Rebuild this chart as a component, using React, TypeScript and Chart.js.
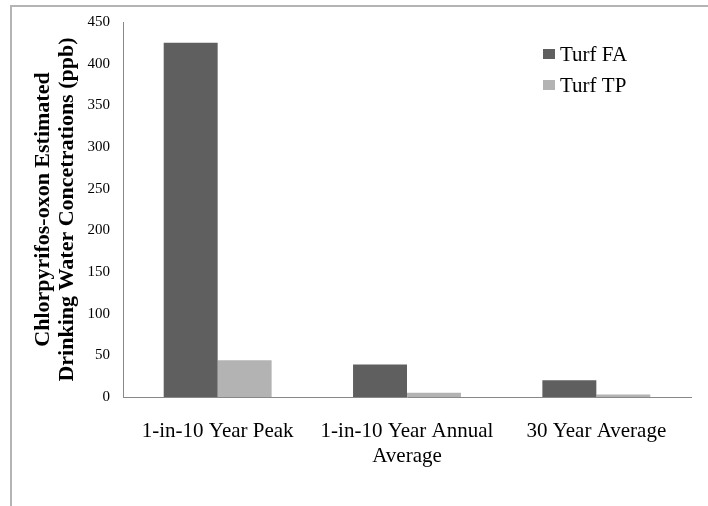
import React, { useEffect, useRef } from "react";
import { Chart, registerables } from "chart.js";

Chart.register(...registerables);

const categories: (string | string[])[] = [
  "1-in-10 Year Peak",
  ["1-in-10 Year Annual", "Average"],
  "30 Year Average",
];
const seriesNames = ["Turf FA", "Turf TP"];
const turfFA = [425, 39, 20];
const turfTP = [44, 5, 3];
const seriesColors = ["#5f5f5f", "#b3b3b3"];
const yTitle = ["Chlorpyrifos-oxon Estimated", "Drinking Water Concetrations (ppb)"];
const yMin = 0;
const yMax = 450;
const yStep = 50;

const SERIF = "'Liberation Serif', 'Times New Roman', serif";

const framePlugin = {
  id: "frame",
  beforeDraw(chart: any) {
    const { ctx, width, height } = chart;
    ctx.save();
    ctx.fillStyle = "#ffffff";
    ctx.fillRect(0, 0, width, height);
    ctx.strokeStyle = "#b4b4b4";
    ctx.lineWidth = 2;
    ctx.beginPath();
    ctx.moveTo(11, height);
    ctx.lineTo(11, 6);
    ctx.lineTo(width, 6);
    ctx.stroke();
    ctx.restore();
  },
};

const legendPlugin = {
  id: "innerLegend",
  afterDraw(chart: any) {
    const { ctx } = chart;
    ctx.save();
    ctx.font = `21px ${SERIF}`;
    ctx.textBaseline = "middle";
    ctx.textAlign = "left";
    chart.data.datasets.forEach((ds: any, i: number) => {
      const y = 54 + i * 31;
      ctx.fillStyle = ds.backgroundColor;
      ctx.fillRect(543, y - 5, 12, 10);
      ctx.fillStyle = "#000000";
      ctx.fillText(ds.label, 560, y + 1);
    });
    ctx.restore();
  },
};

export default function App() {
  const ref = useRef<HTMLCanvasElement | null>(null);

  useEffect(() => {
    if (!ref.current) return;
    const chart = new Chart(ref.current, {
      type: "bar",
      data: {
        labels: categories,
        datasets: [
          { label: seriesNames[0], data: turfFA, backgroundColor: seriesColors[0] },
          { label: seriesNames[1], data: turfTP, backgroundColor: seriesColors[1] },
        ],
      },
      options: {
        responsive: false,
        animation: false,
        devicePixelRatio: 1,
        layout: { padding: { left: 0, top: 20, right: 17, bottom: 0 } },
        datasets: {
          bar: { barPercentage: 1, categoryPercentage: 0.57 },
        },
        plugins: {
          legend: { display: false },
          tooltip: { enabled: false },
        },
        scales: {
          x: {
            grid: { display: false, drawTicks: false },
            border: { display: true, color: "#888888", width: 1 },
            ticks: {
              color: "#000000",
              font: { family: SERIF, size: 21, lineHeight: 1.2 },
              padding: 22,
              maxRotation: 0,
              autoSkip: false,
            },
            afterFit: (scale: any) => {
              scale.height = 109;
            },
          },
          y: {
            min: yMin,
            max: yMax,
            grid: { display: false, drawTicks: false },
            border: { display: true, color: "#888888", width: 1 },
            ticks: {
              stepSize: yStep,
              color: "#000000",
              font: { family: SERIF, size: 15 },
              padding: 13,
            },
            title: {
              display: true,
              text: yTitle,
              color: "#000000",
              font: { family: SERIF, size: 22, weight: "bold", lineHeight: 1.1 },
              padding: { top: 31, bottom: 0 },
            },
            afterFit: (scale: any) => {
              scale.width = 123;
            },
          },
        },
      },
      plugins: [framePlugin, legendPlugin],
    });
    return () => chart.destroy();
  }, []);

  return (
    <div style={{ position: "absolute", left: 0, top: 0, width: 708, height: 506 }}>
      <canvas ref={ref} width={708} height={506} style={{ display: "block" }} />
    </div>
  );
}
